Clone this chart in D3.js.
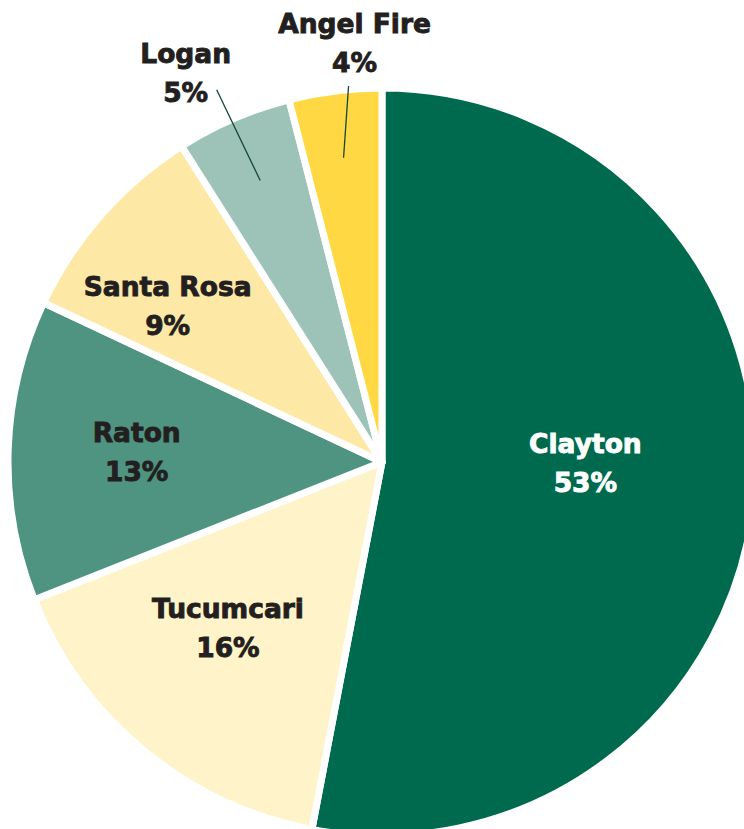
<!DOCTYPE html>
<html>
<head>
<meta charset="utf-8">
<script src="https://cdn.jsdelivr.net/npm/d3@7"></script>
<style>
  html, body { margin: 0; padding: 0; background: #fff; }
  svg { display: block; }
  text { font-family: "DejaVu Sans", sans-serif; font-weight: bold; }
</style>
</head>
<body>
<div id="chart"></div>
<script>
// Datos: reparto por ciudad (en sentido horario desde arriba)
const cities = ["Clayton", "Tucumcari", "Raton", "Santa Rosa", "Logan", "Angel Fire"];
const shares = [53, 16, 13, 9, 5, 4];
const sliceColors = ["#006a4e", "#fff3c9", "#4e9480", "#fde8a6", "#9dc3b8", "#ffd843"];

const width = 744;
const height = 829;
const cx = 382, cy = 462;
const radius = 374;

// Ajustes de las etiquetas respecto al centroide (en px)
const labelNudge = {
    "Clayton":    [-20, -21],
    "Tucumcari":  [-11, -8],
    "Raton":      [-21, -4],
    "Santa Rosa": [-46, -9],
    "Logan":      [-27, 1],
    "Angel Fire": [26, 3]
};
// Extremo de la línea guía respecto al centro de la etiqueta exterior
const leaderEnd = {
    "Logan":      [31, 18],
    "Angel Fire": [-6, 44]
};
const outside = new Set(Object.keys(leaderEnd));

const data = cities.map((c, i) => ({ city: c, value: shares[i], color: sliceColors[i] }));

const svg = d3.select("#chart").append("svg")
    .attr("width", width)
    .attr("height", height);

const g = svg.append("g").attr("transform", `translate(${cx},${cy})`);

const pie = d3.pie().sort(null).value(d => d.value);
const arcs = pie(data);

const arc = d3.arc().innerRadius(0).outerRadius(radius);
const innerLabelArc = d3.arc().innerRadius(radius * 0.6).outerRadius(radius * 0.6);
const leaderArc = d3.arc().innerRadius(radius * 0.82).outerRadius(radius * 0.82);
const outerLabelArc = d3.arc().innerRadius(radius * 1.14).outerRadius(radius * 1.14);

g.selectAll("path.slice")
    .data(arcs)
    .join("path")
    .attr("class", "slice")
    .attr("d", arc)
    .attr("fill", d => d.data.color)
    .attr("stroke", "#fff")
    .attr("stroke-width", 7)
    .attr("stroke-linejoin", "round");

// Posición del centro del bloque de texto
function labelCenter(d) {
    const base = outside.has(d.data.city) ? outerLabelArc.centroid(d) : innerLabelArc.centroid(d);
    const n = labelNudge[d.data.city];
    return [base[0] + n[0], base[1] + n[1]];
}

const fontSize = 26.5;
const lineGap = 39;

// Líneas guía para las etiquetas exteriores
g.selectAll("line.leader")
    .data(arcs.filter(d => outside.has(d.data.city)))
    .join("line")
    .attr("class", "leader")
    .attr("x1", d => leaderArc.centroid(d)[0])
    .attr("y1", d => leaderArc.centroid(d)[1])
    .attr("x2", d => labelCenter(d)[0] + leaderEnd[d.data.city][0])
    .attr("y2", d => labelCenter(d)[1] + leaderEnd[d.data.city][1])
    .attr("stroke", "#0f4a35")
    .attr("stroke-width", 1.3);

const labels = g.selectAll("text.label")
    .data(arcs)
    .join("text")
    .attr("class", "label")
    .attr("text-anchor", "middle")
    .attr("font-size", fontSize)
    .attr("fill", d => d.data.city === "Clayton" ? "#ffffff" : "#231f20")
    .attr("stroke", d => d.data.city === "Clayton" ? "#ffffff" : "#231f20")
    .attr("stroke-width", 0.9)
    .attr("transform", d => `translate(${labelCenter(d)})`);

labels.selectAll("tspan")
    .data(d => [d.data.city, `${d.data.value}%`])
    .join("tspan")
    .attr("x", 0)
    .attr("y", (t, i) => i === 0 ? -9 : -9 + lineGap)
    .text(t => t);
</script>
</body>
</html>
